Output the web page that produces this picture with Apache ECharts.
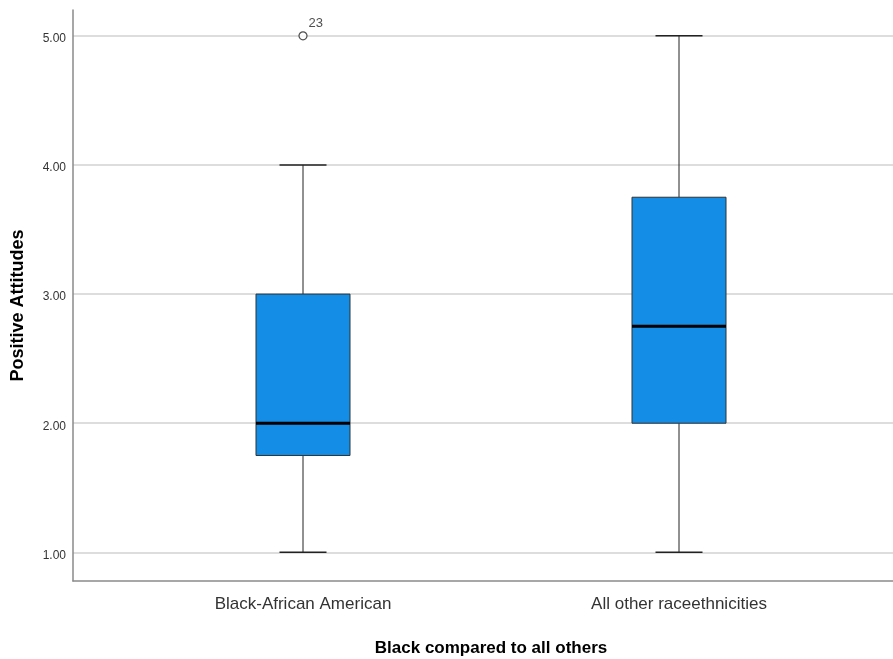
<!DOCTYPE html>
<html><head><meta charset="utf-8">
<script src="https://cdn.jsdelivr.net/npm/echarts@6/dist/echarts.min.js"></script>
<style>html,body{margin:0;padding:0;background:#fff}#c{width:893px;height:659px}</style>
</head><body><div id="c"></div>
<script>
var categories = ['Black-African American', 'All other raceethnicities'];
var minVals = [1.00, 1.00];
var q1Vals = [1.75, 2.00];
var medianVals = [2.00, 2.75];
var q3Vals = [3.00, 3.75];
var maxVals = [4.00, 5.00];
var outlierCats = [0];
var outlierVals = [5.00];
var outlierIds = ['23'];
var yTicks = [1, 2, 3, 4, 5];

var boxData = categories.map(function (c, i) {
  return [i, minVals[i], q1Vals[i], medianVals[i], q3Vals[i], maxVals[i]];
});
var outData = outlierCats.map(function (c, i) { return [c, outlierVals[i], outlierIds[i]]; });

var narrow = "'Liberation Sans Narrow', 'Liberation Sans', Arial, sans-serif";
var yMin = 0.778, yMax = 5.2;

var chart = echarts.init(document.getElementById('c'));
chart.setOption({
  animation: false,
  backgroundColor: '#fff',
  grid: [
    { left: 73, right: 0, top: 10, bottom: 78, outerBoundsMode: 'none', containLabel: false },
    { left: 115, right: 26, top: 10, bottom: 78, outerBoundsMode: 'none', containLabel: false }
  ],
  xAxis: [
    { gridIndex: 0, type: 'value', min: 0, max: 1,
      axisLine: { show: true, lineStyle: { color: '#8a8a8a', width: 1.5 } },
      axisTick: { show: false }, axisLabel: { show: false }, splitLine: { show: false } },
    { gridIndex: 1, type: 'category', data: categories, boundaryGap: true,
      axisLine: { show: false }, axisTick: { show: false },
      axisLabel: { color: '#333', fontFamily: narrow, fontSize: 17, margin: 15 },
      name: 'Black compared to all others', nameLocation: 'middle', nameGap: 59,
      nameTextStyle: { color: '#000', fontFamily: narrow, fontWeight: 'bold', fontSize: 17 } }
  ],
  yAxis: [
    { gridIndex: 0, type: 'value', min: yMin, max: yMax,
      axisLine: { show: true, lineStyle: { color: '#8a8a8a', width: 1.5 } },
      axisTick: { show: false, customValues: yTicks },
      axisLabel: { customValues: yTicks, color: '#333', fontFamily: narrow, fontSize: 12, margin: 7,
        verticalAlign: 'top', lineHeight: 6,
        formatter: function (v) { return Number(v).toFixed(2); } },
      splitLine: { show: true, lineStyle: { color: '#d2d2d2', width: 1.5 } },
      name: 'Positive Attitudes', nameLocation: 'middle', nameGap: 46, nameRotate: 90,
      nameTextStyle: { color: '#000', fontFamily: narrow, fontWeight: 'bold', fontSize: 18, padding: [0, 0, 0, -20] } },
    { gridIndex: 1, type: 'value', min: yMin, max: yMax, show: false,
      splitLine: { show: false } }
  ],
  series: [
    { type: 'custom', xAxisIndex: 1, yAxisIndex: 1, data: boxData,
      renderItem: function (params, api) {
        var x = api.value(0);
        var pMin = api.coord([x, api.value(1)]);
        var pQ1 = api.coord([x, api.value(2)]);
        var pMed = api.coord([x, api.value(3)]);
        var pQ3 = api.coord([x, api.value(4)]);
        var pMax = api.coord([x, api.value(5)]);
        var bw = api.size([1, 0])[0] * 0.25;
        var cw = bw / 2;
        var cx = pMed[0];
        var ls = { stroke: '#222', lineWidth: 1 };
        return { type: 'group', children: [
          { type: 'line', shape: { x1: cx, y1: pMax[1], x2: cx, y2: pQ3[1] }, style: ls },
          { type: 'line', shape: { x1: cx, y1: pQ1[1], x2: cx, y2: pMin[1] }, style: ls },
          { type: 'line', shape: { x1: cx - cw / 2, y1: pMax[1], x2: cx + cw / 2, y2: pMax[1] }, style: { stroke: '#222', lineWidth: 1.5 } },
          { type: 'line', shape: { x1: cx - cw / 2, y1: pMin[1], x2: cx + cw / 2, y2: pMin[1] }, style: { stroke: '#222', lineWidth: 1.5 } },
          { type: 'rect', shape: { x: cx - bw / 2, y: pQ3[1], width: bw, height: pQ1[1] - pQ3[1] },
            style: { fill: '#138de5', stroke: '#333', lineWidth: 1 } },
          { type: 'line', shape: { x1: cx - bw / 2, y1: pMed[1], x2: cx + bw / 2, y2: pMed[1] },
            style: { stroke: '#000', lineWidth: 3 } }
        ] };
      }
    },
    { type: 'scatter', xAxisIndex: 1, yAxisIndex: 1, data: outData,
      symbol: 'circle', symbolSize: 8,
      itemStyle: { color: '#fff', borderColor: '#222', borderWidth: 1.2 },
      label: { show: true, position: [10, -14], formatter: function (p) { return p.data[2]; },
        color: '#222', fontFamily: narrow, fontSize: 13 } }
  ]
});
</script></body></html>
